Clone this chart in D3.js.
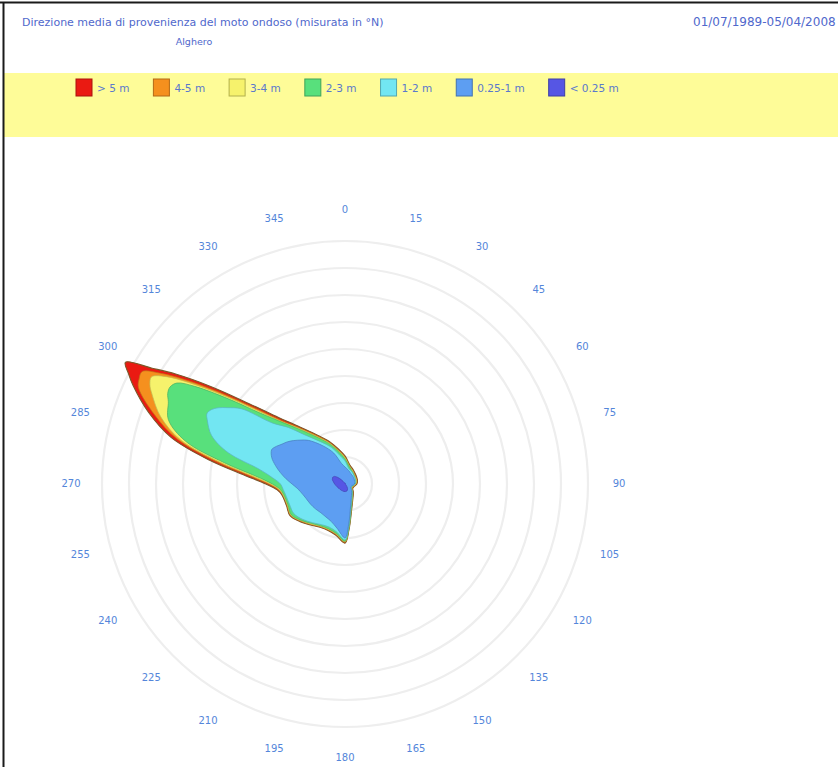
<!DOCTYPE html>
<html>
<head>
<meta charset="utf-8">
<script src="https://cdn.jsdelivr.net/npm/d3@7"></script>
<style>
  html, body { margin: 0; padding: 0; background: #ffffff; }
  svg { display: block; font-family: "DejaVu Sans", Verdana, sans-serif; }
</style>
</head>
<body>
<svg id="chart" width="838" height="767"></svg>
<script>
// ---- Data (radial value in ring units, one ring = 1) ----
const directions = [0, 15, 30, 45, 60, 75, 90, 105, 120, 135, 150, 165, 175, 180, 190, 200, 210, 220, 230, 240, 250, 260, 265, 270, 275, 280, 285, 290, 295, 297, 299, 301, 303, 306, 310, 315, 320, 330, 340, 350];

// cumulative envelopes (all waves, < 5 m, < 4 m, < 3 m, < 2 m, < 1 m, < 0.25 m)
const envTotal = [1.04, 0.72, 0.61, 0.54, 0.50, 0.48, 0.44, 0.35, 0.33, 0.44, 0.59, 0.96, 1.70, 2.19, 1.93, 1.83, 1.85, 1.98, 2.17, 2.35, 2.31, 2.37, 2.52, 2.93, 3.74, 5.11, 6.67, 7.74, 8.67, 9.00, 9.30, 8.33, 7.48, 6.15, 4.63, 3.48, 2.85, 2.11, 1.67, 1.30];
const envBelow5 = [1.00, 0.69, 0.58, 0.51, 0.47, 0.46, 0.42, 0.33, 0.31, 0.42, 0.57, 0.93, 1.67, 2.16, 1.90, 1.81, 1.83, 1.96, 2.14, 2.33, 2.29, 2.34, 2.47, 2.83, 3.57, 4.89, 6.44, 7.51, 8.44, 8.56, 8.59, 7.96, 7.13, 5.83, 4.39, 3.33, 2.77, 2.06, 1.62, 1.25];
const envBelow4 = [0.97, 0.67, 0.57, 0.49, 0.46, 0.44, 0.40, 0.31, 0.29, 0.40, 0.55, 0.91, 1.65, 2.13, 1.88, 1.79, 1.81, 1.94, 2.12, 2.31, 2.27, 2.33, 2.44, 2.76, 3.46, 4.73, 6.30, 7.26, 7.89, 8.11, 8.19, 7.72, 6.90, 5.61, 4.24, 3.23, 2.71, 2.01, 1.59, 1.22];
const envBelow3 = [0.93, 0.65, 0.54, 0.47, 0.43, 0.41, 0.38, 0.29, 0.27, 0.38, 0.53, 0.90, 1.64, 2.12, 1.86, 1.77, 1.79, 1.91, 2.10, 2.29, 2.25, 2.30, 2.40, 2.69, 3.31, 4.54, 6.11, 6.96, 7.22, 7.37, 7.41, 7.26, 6.64, 5.40, 4.07, 3.19, 2.65, 1.97, 1.55, 1.18];
const envBelow2 = [0.86, 0.58, 0.52, 0.46, 0.43, 0.41, 0.37, 0.28, 0.26, 0.37, 0.52, 0.85, 1.59, 2.07, 1.80, 1.70, 1.74, 1.87, 2.04, 2.19, 2.19, 2.24, 2.30, 2.39, 2.70, 3.26, 4.48, 5.26, 5.63, 5.74, 5.67, 5.48, 5.19, 4.74, 3.52, 2.96, 2.41, 1.81, 1.44, 1.07];
const envBelow1 = [0.63, 0.52, 0.44, 0.41, 0.39, 0.37, 0.35, 0.26, 0.24, 0.35, 0.48, 0.81, 1.52, 2.00, 1.67, 1.48, 1.41, 1.39, 1.43, 1.48, 1.54, 1.67, 1.78, 1.96, 2.19, 2.43, 2.67, 2.89, 3.00, 2.96, 2.89, 2.81, 2.74, 2.65, 2.50, 2.30, 2.11, 1.63, 1.22, 0.78];
const envBelow025 = [0.04, 0.03, 0.03, 0.02, 0.02, 0.02, 0.02, 0.03, 0.03, 0.06, 0.19, 0.27, 0.28, 0.28, 0.28, 0.27, 0.27, 0.27, 0.27, 0.29, 0.31, 0.34, 0.36, 0.38, 0.41, 0.43, 0.47, 0.50, 0.51, 0.52, 0.52, 0.51, 0.50, 0.48, 0.41, 0.30, 0.19, 0.07, 0.04, 0.04];

const classLabels = ["> 5 m", "4-5 m", "3-4 m", "2-3 m", "1-2 m", "0.25-1 m", "< 0.25 m"];
const classColors = ["#ea1a12", "#f5901e", "#f6f26c", "#58e07c", "#72e6f2", "#5d9ef2", "#5656e4"];
const envelopes = [envTotal, envBelow5, envBelow4, envBelow3, envBelow2, envBelow1, envBelow025];

const ringValues = d3.range(1, 10);            // 9 rings
const angleTicks = d3.range(0, 360, 15);       // 0..345

const titleText = "Direzione media di provenienza del moto ondoso (misurata in °N)";
const periodText = "01/07/1989-05/04/2008";
const stationText = "Alghero";

// ---- Layout ----
const svg = d3.select("#chart");
const W = 838, H = 767;
const cx = 345, cy = 484;
const outerR = 243;

svg.append("rect").attr("x", 0).attr("y", 0).attr("width", W).attr("height", H).attr("fill", "#ffffff");

// yellow legend band
svg.append("rect").attr("x", 4).attr("y", 73).attr("width", W).attr("height", 64).attr("fill", "#fefc98");

// frame
svg.append("line").attr("x1", 0).attr("x2", W).attr("y1", 2.5).attr("y2", 2.5).attr("stroke", "#1a1a1a").attr("stroke-width", 2);
svg.append("line").attr("x1", 3.5).attr("x2", 3.5).attr("y1", 2).attr("y2", H).attr("stroke", "#1a1a1a").attr("stroke-width", 2);

// titles
svg.append("text").attr("x", 22).attr("y", 26).attr("font-size", 11).attr("fill", "#5068cc").text(titleText);
svg.append("text").attr("x", 693).attr("y", 26).attr("font-size", 12).attr("fill", "#5068cc").text(periodText);
svg.append("text").attr("x", 194).attr("y", 45).attr("text-anchor", "middle").attr("font-size", 9.5).attr("fill", "#5068cc").text(stationText);

// legend
const legend = svg.append("g");
let lx = 76;
classLabels.forEach((lab, i) => {
  legend.append("rect").attr("x", lx).attr("y", 79).attr("width", 16).attr("height", 17)
    .attr("fill", classColors[i]).attr("stroke", d3.color(classColors[i]).darker(0.9)).attr("stroke-width", 1);
  const t = legend.append("text").attr("x", lx + 21).attr("y", 92).attr("font-size", 10.5)
    .attr("fill", "#5a78cc").text(lab);
  const tw = t.node().getComputedTextLength();
  lx += 21 + tw + 24;
});

// polar chart
const g = svg.append("g").attr("transform", `translate(${cx},${cy})`);
const r = d3.scaleLinear().domain([0, 9]).range([0, outerR]);

g.selectAll("circle.ring").data(ringValues).join("circle")
  .attr("class", "ring").attr("r", d => r(d))
  .attr("fill", "none").attr("stroke", "#eeeeee").attr("stroke-width", 2.2);

const labelR = r(9) + 31;
g.selectAll("text.ang").data(angleTicks).join("text")
  .attr("class", "ang")
  .attr("x", d => labelR * Math.sin(d * Math.PI / 180))
  .attr("y", d => -labelR * Math.cos(d * Math.PI / 180))
  .attr("text-anchor", "middle").attr("dominant-baseline", "middle")
  .attr("font-size", 10).attr("fill", "#5486da").text(d => d);

const radial = d3.lineRadial()
  .angle(d => d[0] * Math.PI / 180)
  .radius(d => r(d[1]))
  .curve(d3.curveCatmullRomClosed.alpha(0.5));

envelopes.forEach((env, i) => {
  const pts = directions.map((a, k) => [a, env[k]]);
  g.append("path").attr("d", radial(pts))
    .attr("fill", classColors[i])
    .attr("stroke", i === 0 ? "#7a5a2a" : d3.color(classColors[i]).darker(0.7))
    .attr("stroke-width", i === 0 ? 1.1 : 0.7)
    .attr("stroke-linejoin", "round");
});
</script>
</body>
</html>
